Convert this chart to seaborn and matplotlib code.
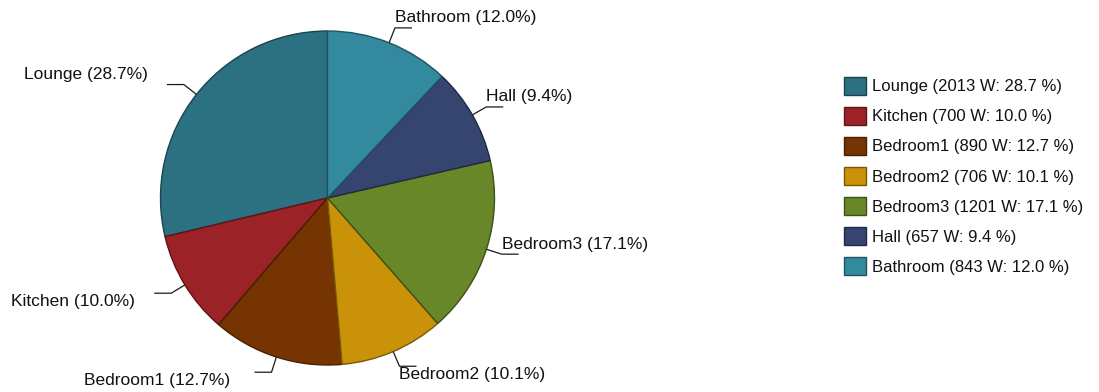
import numpy as np
import matplotlib
matplotlib.use("Agg")
import matplotlib.pyplot as plt
import matplotlib.colors as mcolors
import seaborn as sns

# Power draw per room (W)
rooms = ["Lounge", "Kitchen", "Bedroom1", "Bedroom2", "Bedroom3", "Hall", "Bathroom"]
watts = [2013, 700, 890, 706, 1201, 657, 843]
room_colors = ["#2C7181", "#9B2226", "#763403", "#C99208", "#678728", "#35456F", "#338A9E"]

sns.set_theme(style="white")
plt.rcParams["font.family"] = ["Liberation Sans", "DejaVu Sans"]

W, H = 1099, 392
fig = plt.figure(figsize=(W / 100, H / 100), dpi=100)
ax = fig.add_axes([0, 0, 1, 1])

total = float(sum(watts))
pcts = [v / total * 100 for v in watts]

cx, cy, r = 327.5, H - 198, 167
wedges, _ = ax.pie(
    watts,
    colors=room_colors,
    startangle=90,
    counterclock=True,
    center=(cx, cy),
    radius=r,
    wedgeprops=dict(linewidth=1.0),
)
for w, c in zip(wedges, room_colors):
    rgb = np.array(mcolors.to_rgb(c))
    w.set_edgecolor(tuple(rgb * 0.6))

ax.set_xlim(0, W)
ax.set_ylim(0, H)
ax.set_aspect("auto")
ax.axis("off")

# Leader lines and slice labels
label_size = 12.5
for w, name, p in zip(wedges, rooms, pcts):
    mid = np.deg2rad((w.theta1 + w.theta2) / 2)
    d = np.array([np.cos(mid), np.sin(mid)])
    p0 = np.array([cx, cy]) + r * d
    k = np.array([cx, cy]) + (r + 16) * d
    side = 1 if d[0] >= 0 else -1
    h_end = k + np.array([side * 17, 0])
    ax.plot([p0[0], k[0], h_end[0]], [p0[1], k[1], h_end[1]],
            color="#1a1a1a", lw=0.9, solid_capstyle="butt")
    below = d[1] < -0.4
    ty = k[1] - 8 if below else k[1] + 10
    if side > 0:
        tx, ha = k[0], "left"
    else:
        gap = 24 if d[1] < -0.9 else 19
        tx, ha = h_end[0] - gap, "right"
    ax.text(tx, ty, f"{name} ({p:.1f}%)", ha=ha, va="center",
            fontsize=label_size, color="#111111")

# Legend with wattage and share
legend_labels = [f"{n} ({v} W: {p:.1f} %)" for n, v, p in zip(rooms, watts, pcts)]
fs = 12
px = fs * 100 / 72
leg = ax.legend(
    wedges, legend_labels,
    loc="upper left",
    bbox_to_anchor=(844 / W, 1 - 76.5 / H),
    bbox_transform=fig.transFigure,
    frameon=False,
    fontsize=fs,
    handlelength=22 / px,
    handleheight=22 / px,
    handletextpad=6 / px,
    labelspacing=11.7 / px,
    borderpad=0,
    borderaxespad=0,
)
for t in leg.get_texts():
    t.set_color("#111111")

fig.savefig("out.png", dpi=100)
